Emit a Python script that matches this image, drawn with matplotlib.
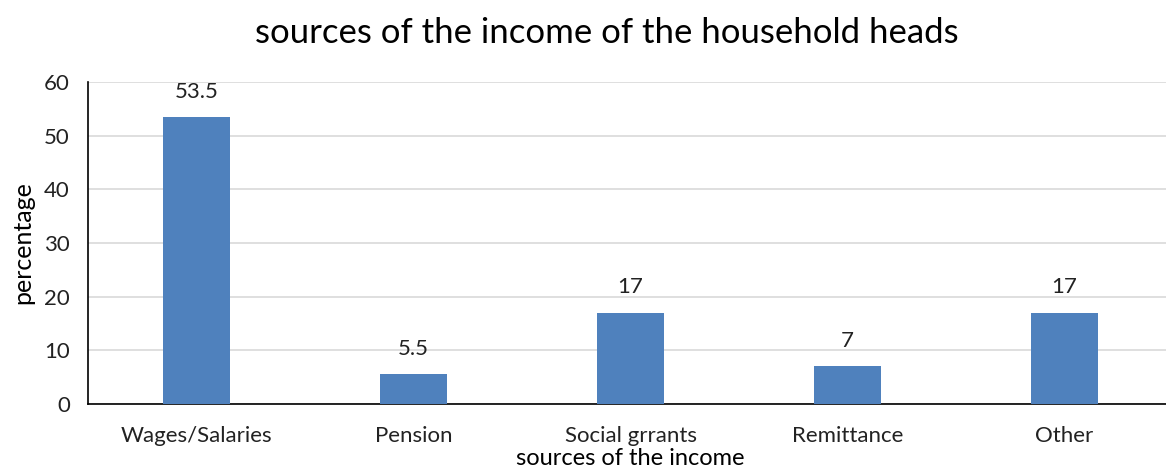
import matplotlib.pyplot as plt
import numpy as np

plt.rcParams['font.family'] = ['Lato', 'DejaVu Sans']

sources = ['Wages/Salaries', 'Pension', 'Social grrants', 'Remittance', 'Other']
percent = [53.5, 5.5, 17, 7, 17]
labels = ['53.5', '5.5', '17', '7', '17']

fig = plt.figure(figsize=(11.66, 4.76), dpi=100)
ax = fig.add_axes([0.0755, 0.1513, 0.9305, 0.6765])

x = np.arange(len(sources))
ax.bar(x, percent, width=0.31, color='#4F81BD', zorder=3)
for xi, v, t in zip(x, percent, labels):
    ax.annotate(t, (xi, v), xytext=(0, 11), textcoords='offset points',
                ha='center', va='bottom', fontsize=16, color='#222222')

ax.set_xlim(-0.5, 4.5)
ax.set_ylim(0, 60)
ax.set_yticks(range(0, 61, 10))
ax.set_xticks(x)
ax.set_xticklabels(sources)
ax.tick_params(axis='both', labelsize=16, length=0, colors='#222222')
ax.tick_params(axis='x', pad=16)
ax.tick_params(axis='y', pad=13)
ax.grid(axis='y', color='#d9d9d9', linewidth=1.2, zorder=0)
for s in ['top', 'right']:
    ax.spines[s].set_visible(False)
ax.spines['left'].set_color('black')
ax.spines['bottom'].set_color('black')
ax.spines['left'].set_linewidth(1.2)
ax.spines['bottom'].set_linewidth(1.2)

ax.set_ylabel('percentage', fontsize=18, labelpad=7)
ax.set_xlabel('sources of the income', fontsize=17, labelpad=1)
fig.text(0.52, 0.93, 'sources of the income of the household heads',
         ha='center', va='center', fontsize=25)

fig.savefig('out.png', dpi=100)
